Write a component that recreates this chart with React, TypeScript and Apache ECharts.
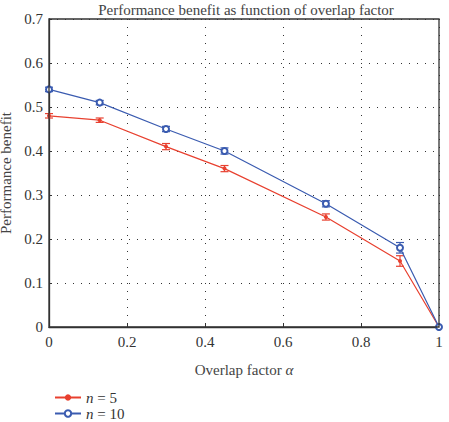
import React, { useEffect, useRef } from "react";
import * as echarts from "echarts";

const alpha = [0, 0.13, 0.3, 0.45, 0.71, 0.9, 1];
const benefitN5 = [0.48, 0.47, 0.41, 0.36, 0.25, 0.15, 0];
const errN5 = [0.005, 0.005, 0.007, 0.007, 0.007, 0.012, 0];
const benefitN10 = [0.54, 0.51, 0.45, 0.4, 0.28, 0.18, 0];
const errN10 = [0.005, 0.005, 0.006, 0.007, 0.007, 0.012, 0];
const xTicks = [0, 0.2, 0.4, 0.6, 0.8, 1];
const yTicks = [0, 0.1, 0.2, 0.3, 0.4, 0.5, 0.6, 0.7];

const RED = "#e8402f";
const BLUE = "#3a5bb0";
const FONT = "Liberation Serif";

function errorSeries(vals: number[], errs: number[], color: string) {
  const data = alpha
    .map((x, i) => [x, vals[i] - errs[i], vals[i] + errs[i]])
    .filter((_, i) => errs[i] > 0);
  return {
    type: "custom",
    data,
    z: 3,
    silent: true,
    renderItem: (params: any, api: any) => {
      const x = api.value(0);
      const lo = api.coord([x, api.value(1)]);
      const hi = api.coord([x, api.value(2)]);
      const hw = 4;
      const style = { stroke: color, lineWidth: 1.2 };
      return {
        type: "group",
        children: [
          { type: "line", shape: { x1: lo[0], y1: lo[1], x2: hi[0], y2: hi[1] }, style },
          { type: "line", shape: { x1: lo[0] - hw, y1: lo[1], x2: lo[0] + hw, y2: lo[1] }, style },
          { type: "line", shape: { x1: hi[0] - hw, y1: hi[1], x2: hi[0] + hw, y2: hi[1] }, style },
        ],
      };
    },
  };
}

export default function App() {
  const ref = useRef<HTMLDivElement>(null);
  useEffect(() => {
    if (!ref.current) return;
    const chart = echarts.init(ref.current, undefined, { renderer: "svg" });
    const labelStyle = { color: "#333", fontFamily: FONT, fontSize: 15 };
    const legendText = {
      color: "#333",
      fontFamily: FONT,
      fontSize: 15,
      rich: { n: { fontStyle: "italic", fontFamily: FONT, fontSize: 15, color: "#333" } },
    };
    chart.setOption({
      animation: false,
      textStyle: { fontFamily: FONT },
      title: {
        text: "Performance benefit as function of overlap factor",
        left: 241,
        textAlign: "center",
        top: -3,
        textStyle: { color: "#444", fontFamily: FONT, fontSize: 15, fontWeight: "normal" },
      },
      grid: {
        left: 49,
        top: 19,
        width: 390,
        height: 308,
        containLabel: false,
        outerBoundsMode: "none",
        show: false,
      },
      xAxis: {
        type: "value",
        min: 0,
        max: 1,
        interval: 0.2,
        name: "Overlap factor {a|α}",
        nameLocation: "middle",
        nameGap: 35,
        nameTextStyle: {
          color: "#444",
          fontFamily: FONT,
          fontSize: 15,
          rich: { a: { fontStyle: "italic", fontFamily: FONT, fontSize: 15, color: "#444" } },
        },
        axisLine: { show: true, onZero: false, lineStyle: { color: "#333", width: 1.3 } },
        axisTick: { show: true, inside: true, length: 3, lineStyle: { color: "#333" } },
        axisLabel: { ...labelStyle, margin: 7, formatter: (v: number) => (xTicks.includes(v) ? String(v) : "") },
        splitLine: { show: true, lineStyle: { color: "#333", type: [1, 7], width: 1 } },
      },
      yAxis: {
        type: "value",
        min: 0,
        max: 0.7,
        interval: 0.1,
        name: "Performance benefit",
        nameLocation: "middle",
        nameGap: 29,
        nameTextStyle: { color: "#444", fontFamily: FONT, fontSize: 15 },
        axisLine: { show: true, onZero: false, lineStyle: { color: "#333", width: 1.3 } },
        axisTick: { show: true, inside: true, length: 3, lineStyle: { color: "#333" } },
        axisLabel: {
          ...labelStyle,
          margin: 6,
          formatter: (v: number) => {
            const t = yTicks.find((y) => Math.abs(y - v) < 1e-9);
            return t === undefined ? "" : String(Math.round(t * 10) / 10);
          },
        },
        splitLine: { show: true, lineStyle: { color: "#333", type: [1, 7], width: 1 } },
      },
      legend: [
        {
          left: 49,
          top: 385,
          itemWidth: 26,
          itemHeight: 8,
          textStyle: legendText,
          formatter: () => "{n|n} = 5",
          data: ["n5"],
        },
        {
          left: 49,
          top: 401,
          itemWidth: 26,
          itemHeight: 8,
          textStyle: legendText,
          formatter: () => "{n|n} = 10",
          data: ["n10"],
        },
      ],
      graphic: [
        {
          type: "rect",
          shape: { x: 49, y: 19, width: 390, height: 308 },
          style: { fill: "none", stroke: "#333", lineWidth: 1.3 },
          silent: true,
          z: 10,
        },
      ],
      series: [
        {
          name: "n5",
          type: "line",
          data: alpha.map((x, i) => [x, benefitN5[i]]),
          symbol: "circle",
          symbolSize: 4,
          itemStyle: { color: RED },
          lineStyle: { color: RED, width: 1.2 },
          z: 4,
        },
        {
          name: "n10",
          type: "line",
          data: alpha.map((x, i) => [x, benefitN10[i]]),
          symbol: "emptyCircle",
          symbolSize: 6,
          itemStyle: { color: BLUE, borderWidth: 1.2 },
          lineStyle: { color: BLUE, width: 1.2 },
          z: 4,
        },
        errorSeries(benefitN5, errN5, RED),
        errorSeries(benefitN10, errN10, BLUE),
      ],
    });
    return () => chart.dispose();
  }, []);
  return <div ref={ref} style={{ position: "absolute", left: 0, top: 0, width: 449, height: 422 }} />;
}
